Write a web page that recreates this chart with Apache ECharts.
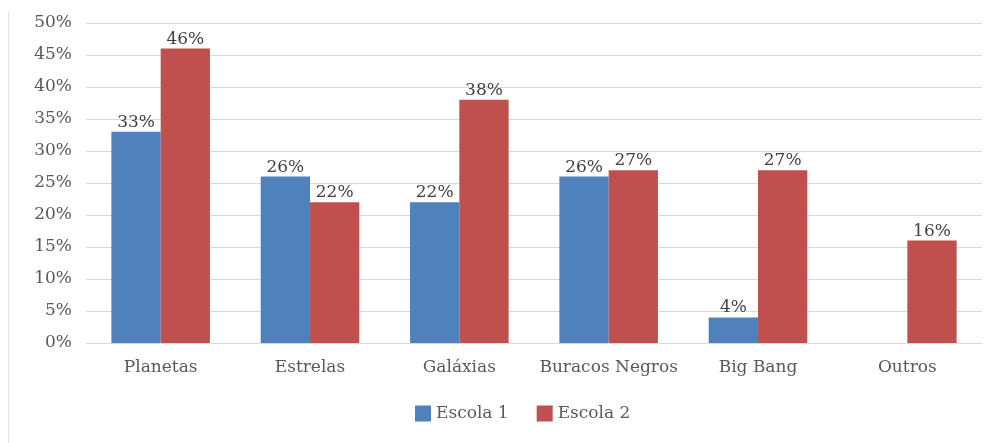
<!DOCTYPE html>
<html>
<head>
<meta charset="utf-8">
<script src="https://cdn.jsdelivr.net/npm/echarts@6/dist/echarts.min.js"></script>
<style>
  html, body { margin: 0; padding: 0; background: #fff; }
  #chart { width: 992px; height: 443px; }
</style>
</head>
<body>
<div id="chart"></div>
<script>
// Temas de interesse por escola (percentagem de alunos)
const categories = ['Planetas', 'Estrelas', 'Galáxias', 'Buracos Negros', 'Big Bang', 'Outros'];
const escola1 = [33, 26, 22, 26, 4, null];
const escola2 = [46, 22, 38, 27, 27, 16];
const yTicks = { min: 0, max: 50, interval: 5 };

const font = '"DejaVu Serif", serif';
const fontSize = 17;
const chart = echarts.init(document.getElementById('chart'), null, { renderer: 'canvas' });

const labelStyle = {
  show: true,
  position: 'top',
  distance: 1,
  color: '#404040',
  fontFamily: font,
  fontSize: fontSize,
  formatter: p => (p.value == null ? '' : p.value + '%')
};

chart.setOption({
  animation: false,
  textStyle: { fontFamily: font },
  grid: { left: 86, right: 10, top: 23, bottom: 100, containLabel: false },
  legend: {
    bottom: 16,
    left: 410,
    itemWidth: 16,
    itemHeight: 16,
    itemGap: 28,
    icon: 'rect',
    textStyle: { color: '#595959', fontFamily: font, fontSize: fontSize },
    data: ['Escola 1', 'Escola 2']
  },
  xAxis: {
    type: 'category',
    data: categories,
    axisTick: { show: false },
    axisLine: { lineStyle: { color: '#d9d9d9', width: 1 } },
    axisLabel: { color: '#595959', fontFamily: font, fontSize: fontSize, margin: 16, interval: 0 }
  },
  yAxis: {
    type: 'value',
    min: yTicks.min,
    max: yTicks.max,
    interval: yTicks.interval,
    axisLine: { show: false },
    axisTick: { show: false },
    splitLine: { lineStyle: { color: '#d9d9d9', width: 1 } },
    axisLabel: { color: '#595959', fontFamily: font, fontSize: fontSize, margin: 14, formatter: '{value}%' }
  },
  series: [
    {
      name: 'Escola 1',
      type: 'bar',
      data: escola1,
      barGap: '0%',
      barCategoryGap: '34%',
      itemStyle: { color: '#4F81BD' },
      label: labelStyle
    },
    {
      name: 'Escola 2',
      type: 'bar',
      data: escola2,
      itemStyle: { color: '#C0504D' },
      label: labelStyle
    }
  ],
  graphic: [
    {
      type: 'line',
      shape: { x1: 8.5, y1: 12, x2: 8.5, y2: 443 },
      style: { stroke: '#e3e3e3', lineWidth: 1 },
      silent: true
    }
  ]
});
</script>
</body>
</html>
